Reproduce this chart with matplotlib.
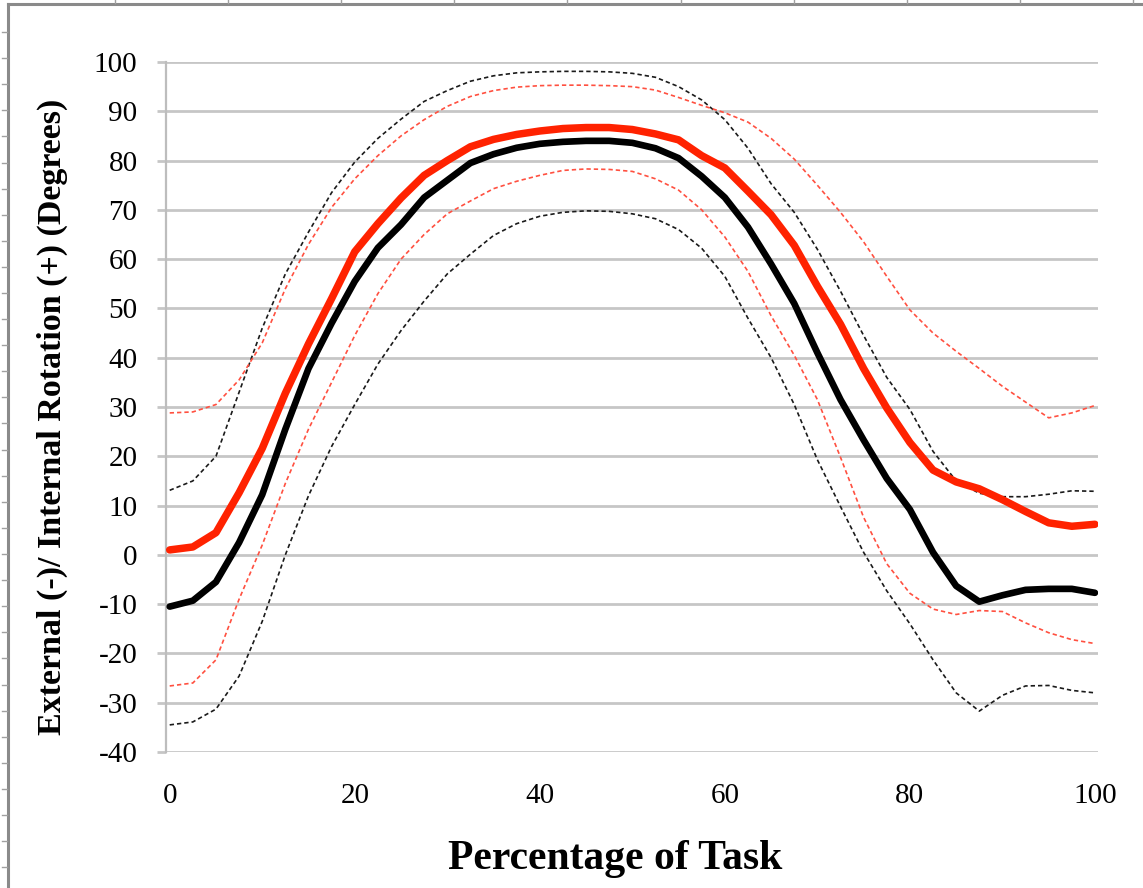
import matplotlib
matplotlib.use("Agg")
import matplotlib.pyplot as plt
from matplotlib.lines import Line2D

plt.rcParams["axes.unicode_minus"] = False

# ---- data ----
pct = [0, 2.5, 5, 7.5, 10, 12.5, 15, 17.5, 20, 22.5, 25, 27.5, 30, 32.5, 35, 37.5,
       40, 42.5, 45, 47.5, 50, 52.5, 55, 57.5, 60, 62.5, 65, 67.5, 70, 72.5, 75,
       77.5, 80, 82.5, 85, 87.5, 90, 92.5, 95, 97.5, 100]

red_mean = [1.0, 1.6, 4.5, 12.6, 21.6, 32.8, 42.8, 52.0, 61.5, 67.2, 72.4, 77.0, 80.0,
            82.8, 84.3, 85.3, 86.0, 86.5, 86.7, 86.7, 86.3, 85.4, 84.2, 81.0, 78.5,
            73.8, 69.0, 62.8, 54.5, 46.8, 37.8, 29.8, 22.8, 17.2, 14.8, 13.4, 11.2,
            8.8, 6.5, 5.8, 6.2]
red_upper = [28.8, 29.0, 30.5, 35.5, 43.0, 54.0, 63.0, 70.5, 76.3, 81.0, 85.0, 88.3,
             91.0, 93.0, 94.2, 94.9, 95.2, 95.3, 95.3, 95.2, 95.0, 94.3, 92.8, 91.2,
             89.7, 87.8, 84.5, 80.3, 75.0, 69.5, 63.5, 56.5, 49.7, 45.0, 41.3, 37.8,
             34.2, 31.0, 27.8, 28.8, 30.3]
red_lower = [-26.6, -26.0, -21.3, -9.0, 2.0, 14.5, 25.5, 35.0, 44.5, 53.0, 60.0, 65.0,
             69.2, 71.8, 74.3, 75.8, 77.0, 78.0, 78.3, 78.2, 77.8, 76.3, 74.0, 70.0,
             64.5, 57.5, 48.5, 40.5, 31.5, 19.8, 7.6, -1.8, -7.8, -11.0, -12.1, -11.3,
             -11.5, -13.8, -15.8, -17.2, -18.0]

black_mean = [-10.5, -9.3, -5.5, 2.5, 12.2, 25.5, 37.8, 47.0, 55.5, 62.3, 67.0, 72.5,
              76.0, 79.5, 81.3, 82.6, 83.4, 83.8, 84.0, 84.0, 83.6, 82.5, 80.5, 76.8,
              72.5, 66.5, 59.0, 51.0, 41.0, 31.5, 23.3, 15.5, 9.2, 0.5, -6.3, -9.5,
              -8.2, -7.1, -6.9, -6.9, -7.7]
black_upper = [13.1, 15.0, 20.0, 33.0, 46.0, 57.0, 65.5, 73.5, 79.7, 84.5, 88.4, 92.0,
               94.2, 96.1, 97.2, 97.8, 98.0, 98.1, 98.1, 98.0, 97.7, 96.9, 95.0, 92.3,
               88.3, 82.5, 75.3, 69.5, 62.0, 53.5, 44.5, 36.0, 29.5, 21.0, 15.0, 12.5,
               11.8, 11.8, 12.3, 13.0, 12.9]
black_lower = [-34.5, -33.9, -31.3, -24.6, -13.5, 0.0, 12.0, 22.0, 30.5, 38.7, 45.5,
               51.5, 57.0, 61.0, 64.8, 67.2, 68.7, 69.5, 69.8, 69.7, 69.2, 68.2, 66.0,
               62.2, 56.5, 48.0, 40.0, 30.5, 19.3, 9.8, 0.5, -7.3, -14.0, -21.3, -28.0,
               -31.7, -28.5, -26.6, -26.5, -27.5, -28.0]

y_ticks = list(range(-40, 101, 10))
x_ticks = [0, 20, 40, 60, 80, 100]

# ---- figure ----
W, H = 1143, 888
fig = plt.figure(figsize=(W / 100, H / 100), dpi=100)
fig.patch.set_facecolor("white")

def fx(px):
    return px / W

def fy(py):
    return 1 - py / H

ax = fig.add_axes([fx(166), fy(752), fx(1098) - fx(166), fy(62) - fy(752)])

RED = "#ff2200"
dash = (0, (2.6, 1.8))
ax.plot(pct, black_upper, color="#1a1a1a", lw=1.2, ls=dash, zorder=3)
ax.plot(pct, black_lower, color="#1a1a1a", lw=1.2, ls=dash, zorder=3)
ax.plot(pct, red_upper, color="#ff5040", lw=1.2, ls=dash, zorder=3)
ax.plot(pct, red_lower, color="#ff5040", lw=1.2, ls=dash, zorder=3)
ax.plot(pct, black_mean, color="black", lw=4.8, solid_capstyle="round",
        solid_joinstyle="round", zorder=4)
ax.plot(pct, red_mean, color=RED, lw=5.4, solid_capstyle="round",
        solid_joinstyle="round", zorder=5)

ax.set_xlim(-0.4, 100.33)
ax.set_ylim(-40, 100)
ax.set_yticks(y_ticks)
ax.set_xticks(x_ticks)

ax.yaxis.grid(True, color="#c6c6c6", lw=2.0, zorder=0)
ax.set_axisbelow(True)
for s in ["top", "right", "bottom"]:
    ax.spines[s].set_visible(False)
ax.spines["left"].set_color("#bdbdbd")
ax.spines["left"].set_linewidth(1.6)

ax.tick_params(axis="y", length=6.5, width=2.0, color="#c6c6c6", pad=14)
ax.tick_params(axis="x", length=0, pad=22)
for lab in ax.get_yticklabels() + ax.get_xticklabels():
    lab.set_fontfamily("Liberation Serif")
    lab.set_fontsize(21)
    lab.set_color("black")

ax.set_ylabel("External (-)/ Internal Rotation (+) (Degrees)",
              fontfamily="Liberation Serif", fontweight="bold", fontsize=24.5)
ax.yaxis.set_label_coords((68 - 166) / 932, (752 - 417) / 690)
ax.set_xlabel("Percentage of Task", fontfamily="Liberation Serif",
              fontweight="bold", fontsize=30)
ax.xaxis.set_label_coords((615 - 166) / 932, (752 - 840) / 690)

# outer frame (screenshot border + ruler ticks)
frame_c = "#8a8a8a"
fig.add_artist(Line2D([fx(8), 1], [fy(4), fy(4)], color=frame_c, lw=2.2))
fig.add_artist(Line2D([fx(8), fx(8)], [fy(4), 0], color=frame_c, lw=2.2))
for k in range(33):
    py = 32 + 26.1 * k
    fig.add_artist(Line2D([fx(2), fx(7)], [fy(py), fy(py)], color="#a0a0a0", lw=1.0))
for k in range(10):
    px = 115 + 113.1 * k
    fig.add_artist(Line2D([fx(px), fx(px)], [fy(0), fy(3)], color="#a0a0a0", lw=1.0))

fig.savefig("out.png", dpi=100, facecolor="white")
